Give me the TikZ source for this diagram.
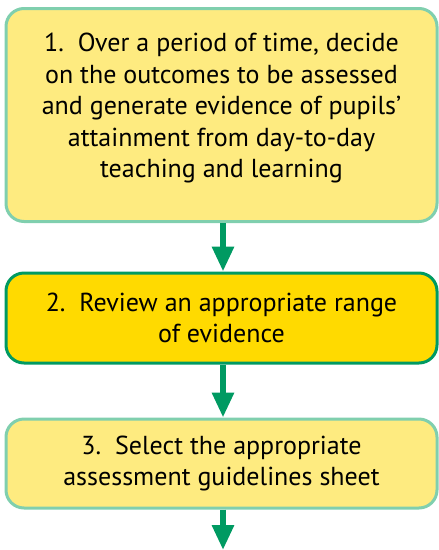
\documentclass[tikz,border=0pt]{standalone}
\usepackage{fontspec}
\setmainfont{PT Sans}
\usetikzlibrary{arrows.meta}
\definecolor{paleY}{HTML}{FEEB80}
\definecolor{paleB}{HTML}{80CFAE}
\definecolor{goldY}{HTML}{FFDA00}
\definecolor{darkG}{HTML}{009A62}
\tikzset{
  txt/.style={align=center, font=\fontsize{26}{31.5}\selectfont, inner sep=0pt},
  box/.style={draw=paleB, fill=paleY, line width=3pt, rounded corners=18pt, minimum width=431pt, txt},
  hibox/.style={box, draw=darkG, fill=goldY},
  flow/.style={draw=darkG, line width=6pt, -{Triangle[width=21pt,length=25pt]}}
}
\begin{document}
\begin{tikzpicture}[x=1pt,y=1pt]
\useasboundingbox (0,0) rectangle (439,-550);
\node[box, minimum height=213pt, label={[txt, yshift=7pt]center:1.\ \ Over a period of time, decide\\on the outcomes to be assessed\\and generate evidence of pupils’\\attainment from day-to-day\\teaching and learning}] (b1) at (221.5,-115) {};
\node[hibox, minimum height=90pt] (b2) at (221.5,-318) {2.\ \ Review an appropriate range\\of evidence};
\node[box, minimum height=89pt] (b3) at (221.5,-463.5) {3.\ \ Select the appropriate\\assessment guidelines sheet};
\coordinate (end) at (223,-550);
\draw[flow] ([xshift=1.5pt]b1.south) -- ([xshift=1.5pt]b2.north);
\draw[flow] ([xshift=1.5pt]b2.south) -- ([xshift=1.5pt]b3.north);
\draw[flow] ([xshift=1.5pt]b3.south) -- (end);
\end{tikzpicture}
\end{document}
